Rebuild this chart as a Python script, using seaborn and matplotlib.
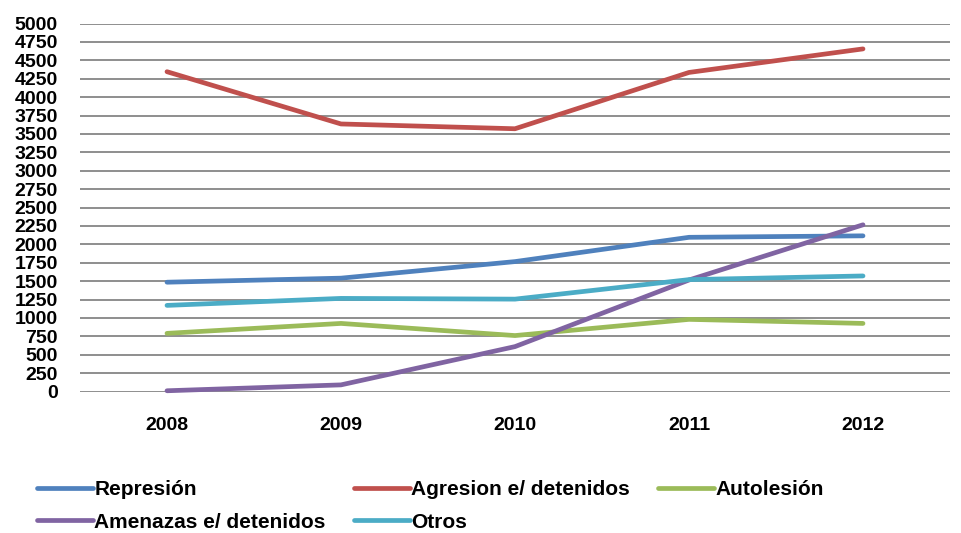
import matplotlib
matplotlib.use("Agg")
import matplotlib.pyplot as plt
import seaborn as sns
import pandas as pd

years = [2008, 2009, 2010, 2011, 2012]
represion = [1485, 1540, 1765, 2095, 2115]
agresion = [4345, 3635, 3570, 4335, 4655]
autolesion = [790, 925, 760, 980, 925]
amenazas = [10, 90, 610, 1515, 2265]
otros = [1170, 1265, 1255, 1520, 1570]

series_names = ["Represión", "Agresion e/ detenidos", "Autolesión",
                "Amenazas e/ detenidos", "Otros"]
series_values = [represion, agresion, autolesion, amenazas, otros]
colors = ["#4F81BD", "#C0504D", "#9BBB59", "#8064A2", "#4BACC6"]
y_ticks = list(range(0, 5001, 250))

sns.set_style("white")
plt.rcParams["font.family"] = ["Liberation Sans", "DejaVu Sans"]
plt.rcParams["font.weight"] = "bold"
plt.rcParams["text.color"] = "black"
plt.rcParams["xtick.color"] = "black"
plt.rcParams["ytick.color"] = "black"

rows = []
for name, vals in zip(series_names, series_values):
    for yr, v in zip(years, vals):
        rows.append({"Año": yr, "Valor": v, "Serie": name})
df = pd.DataFrame(rows)

fig = plt.figure(figsize=(9.62, 5.33), dpi=100)
ax = fig.add_axes([80 / 962, 1 - 391.5 / 533, 870 / 962, 368 / 533])

sns.lineplot(data=df, x="Año", y="Valor", hue="Serie", hue_order=series_names,
             palette=colors, linewidth=3.4, ax=ax, legend=False,
             solid_capstyle="round", solid_joinstyle="round", zorder=3)

ax.set_xlim(2007.5, 2012.5)
ax.set_ylim(0, 5000)
ax.set_yticks(y_ticks)
ax.set_yticklabels([str(t) for t in y_ticks], fontsize=14, fontweight="bold")
ax.set_xticks(years)
ax.set_xticklabels([str(y) for y in years], fontsize=14, fontweight="bold")
ax.set_xlabel("")
ax.set_ylabel("")
ax.tick_params(axis="both", length=0)
ax.tick_params(axis="y", pad=16)
ax.tick_params(axis="x", pad=18)
ax.grid(axis="y", color="#868686", linewidth=1.3, zorder=0)
ax.set_axisbelow(True)
for sp in ax.spines.values():
    sp.set_visible(False)
for line in ax.lines:
    line.set_clip_on(False)

# legend: rows read Represión / Agresion / Autolesión, then Amenazas / Otros
handles = [plt.Line2D([], [], color=c, linewidth=3.4, solid_capstyle="round")
           for c in colors]
order = [0, 3, 1, 4, 2]
fig.legend([handles[i] for i in order], [series_names[i] for i in order],
           ncol=3, loc="upper left", bbox_to_anchor=(37 / 962, 1 - 480 / 533),
           frameon=False, handlelength=2.7, handletextpad=0.05,
           columnspacing=1.35, labelspacing=0.66, borderpad=0,
           prop={"size": 15, "weight": "bold"}, borderaxespad=0)

fig.savefig("out.png", dpi=100)
